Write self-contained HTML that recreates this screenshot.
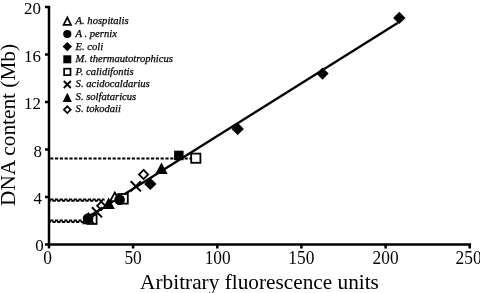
<!DOCTYPE html>
<html><head><meta charset="utf-8"><title>Chart</title>
<style>
html,body{margin:0;padding:0;background:#fff;}
svg{display:block}
text{font-family:"Liberation Serif",serif;fill:#000}
.tk{font-size:17.7px}
.lg{font-size:10.6px;font-style:italic;stroke:#000;stroke-width:.25px}
.ti{font-size:22px}
</style></head><body>
<svg width="480" height="293" viewBox="0 0 480 293">
<rect width="480" height="293" fill="#fff"/>
<!-- axes -->
<g stroke="#000" stroke-width="2.5" fill="none" stroke-linecap="butt">
<path d="M49 5.9V248.4"/>
<path d="M45 244.6H471"/>
<path d="M45 7.1H49M45 54.6H49M45 102.1H49M45 149.6H49M45 197.1H49"/>
<path d="M133.1 244.6V248.4M217.3 244.6V248.4M301.4 244.6V248.4M385.6 244.6V248.4M469.7 244.6V248.4"/>
</g>
<!-- dashed -->
<g stroke="#000" fill="none">
<path d="M50.2 158.5H191" stroke-width="2.2" stroke-dasharray="3.200 1.600"/>
<path d="M50.2 199.5H104.5" stroke-width="2" stroke-dasharray="3.2 1.5"/>
<path d="M50.2 200.8H104.5" stroke-width="2" stroke-dasharray="3.2 1.5" stroke-dashoffset="2.35"/>
<path d="M50.2 220.6H86" stroke-width="2" stroke-dasharray="3.2 1.5"/>
<path d="M50.2 221.9H86" stroke-width="2" stroke-dasharray="3.2 1.5" stroke-dashoffset="2.35"/>
</g>
<!-- regression -->
<path d="M88.500 216.800L398 22.700" stroke="#000" stroke-width="2.300" fill="none"/>
<!-- markers -->
<g fill="#fff" stroke="#000" stroke-width="1.8">
<rect x="191.2" y="153.6" width="9.2" height="9.2"/>
<rect x="118.2" y="194" width="9.6" height="9.6"/>
<rect x="87.4" y="214.7" width="9.2" height="9.2"/>
<path d="M143.600 169.900l4.600 4.600-4.600 4.600-4.600-4.600z"/>
<path d="M101.200 201.700l4.100 4.100-4.100 4.100-4.100-4.100z"/>
<path d="M114.800 192.500l4.800 8.700h-9.600z"/>
<path d="M88.500 213.800l4.900 9.600h-9.800z"/>
</g>
<g fill="#000" stroke="none">
<path d="M399.300 11.700l6.200 6.200-6.200 6.200-6.200-6.200z"/>
<path d="M322.500 67.400l6.200 6.200-6.200 6.200-6.200-6.200z"/>
<path d="M237.700 122.700l6.200 6.200-6.200 6.200-6.200-6.200z"/>
<path d="M150.300 177.700l6.200 6.200-6.200 6.200-6.200-6.200z"/>
<rect x="174.100" y="150.700" width="9.500" height="9.500"/>
<path d="M161.500 162.400l6.200 11.500h-12.400z"/>
<path d="M108.600 197.500l6.200 11.500h-12.400z"/>
<circle cx="119.600" cy="199.800" r="5.300"/>
<circle cx="88" cy="218.500" r="5.300"/>
</g>
<g stroke="#000" stroke-width="2" fill="none">
<path d="M130.700 181.200l10.200 10.200M130.700 191.400l10.200-10.200"/>
<path d="M91.900 207.200l10.200 10.200M91.900 217.400l10.200-10.200"/>
</g>
<!-- legend markers -->
<g fill="#000">
<circle cx="67.3" cy="34.0" r="4.1"/>
<path d="M67.3 41.9l4.7 4.7-4.7 4.7-4.7-4.7z"/>
<rect x="63.3" y="55.3" width="8" height="8"/>
<path d="M67.3 92.8l4.6 9.2h-9.2z"/>
</g>
<g fill="#fff" stroke="#000" stroke-width="1.7">
<path d="M67.3 17.500l3.700 7.300h-7.400z"/>
<rect x="64.1" y="68.7" width="6.4" height="6.4"/>
<path d="M67.3 106.3l3.4 3.4-3.4 3.4-3.4-3.4z"/>
</g>
<path d="M63.8 81.0l7 7M63.8 88.0l7-7" stroke="#000" stroke-width="1.9" fill="none"/>
<!-- legend text -->
<g class="lg">
<text x="75.6" y="24.4">A. hospitalis</text>
<text x="75.6" y="37.0">A . pernix</text>
<text x="75.6" y="49.5">E. coli</text>
<text x="75.6" y="62.1">M. thermautotrophicus</text>
<text x="75.6" y="74.7">P. calidifontis</text>
<text x="75.6" y="87.2">S. acidocaldarius</text>
<text x="75.6" y="99.8">S. solfataricus</text>
<text x="75.6" y="112.4">S. tokodaii</text>
</g>
<!-- tick labels -->
<g class="tk" text-anchor="end">
<text transform="translate(41.0,14.1) scale(0.955,1)">20</text>
<text transform="translate(41.0,61.6) scale(0.955,1)">16</text>
<text transform="translate(41.0,109.1) scale(0.955,1)">12</text>
<text transform="translate(42.0,156.6) scale(0.955,1)">8</text>
<text transform="translate(42.0,204.1) scale(0.955,1)">4</text>
<text transform="translate(43.8,251.2) scale(0.955,1)">0</text>
</g>
<g class="tk" text-anchor="middle">
<text transform="translate(47.6,263.6) scale(0.95,1)" font-size="18.3">0</text>
<text transform="translate(133.1,263.6) scale(0.95,1)" font-size="18.3">50</text>
<text transform="translate(217.7,263.6) scale(0.95,1)" font-size="18.3">100</text>
<text transform="translate(301.4,263.6) scale(0.95,1)" font-size="18.3">150</text>
<text transform="translate(385.6,263.6) scale(0.95,1)" font-size="18.3">200</text>
<text transform="translate(468.6,263.6) scale(0.95,1)" font-size="18.3">250</text>
</g>
<text class="ti" transform="translate(259.5,288.9) scale(0.968,1)" text-anchor="middle">Arbitrary fluorescence units</text>
<text class="ti" transform="translate(15.2,124.9) rotate(-90) scale(0.968,1)" text-anchor="middle">DNA content (Mb)</text>
</svg>
</body></html>
